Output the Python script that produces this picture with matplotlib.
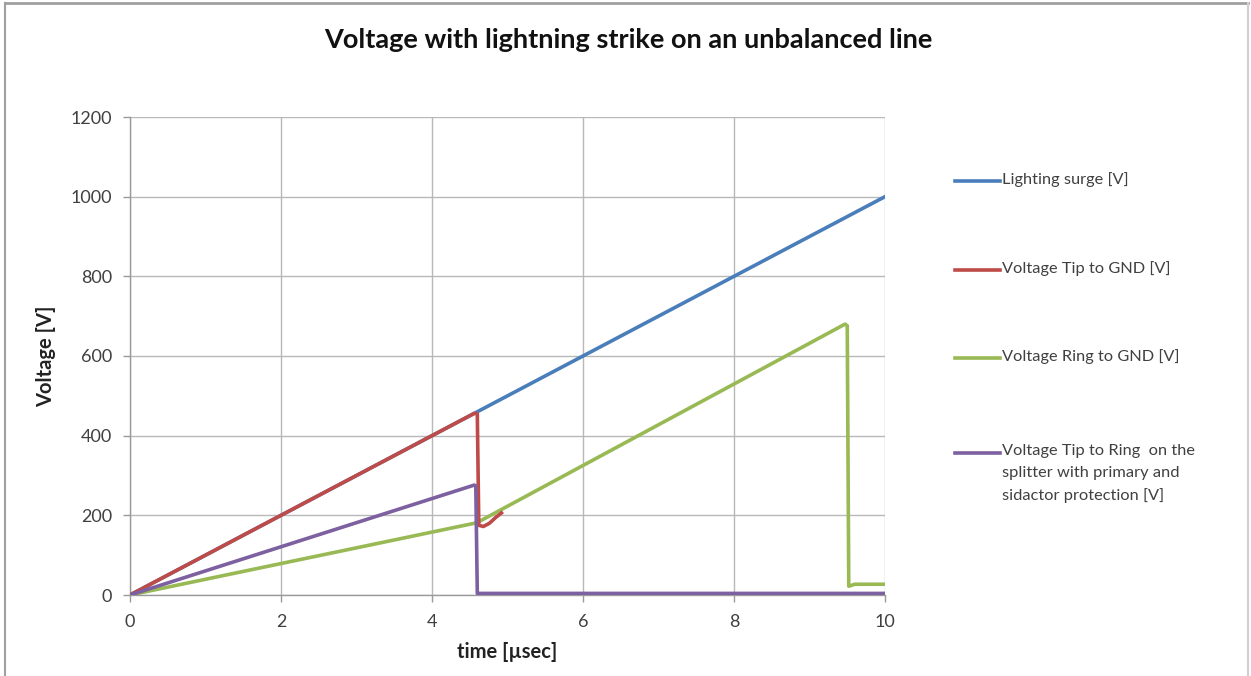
import matplotlib
matplotlib.use("Agg")
import matplotlib.pyplot as plt
from matplotlib.lines import Line2D

# ---- data ----
surge_t = [0, 10]
surge_v = [0, 1000]

tip_t = [0, 4.56, 4.60, 4.62, 4.68, 4.76, 4.84, 4.92]
tip_v = [0, 456, 455, 175, 172, 180, 194, 206]

ring_t = [0, 4.56, 4.62, 9.47, 9.50, 9.52, 9.60, 10]
ring_v = [0, 180, 184, 680, 676, 22, 27, 27]

tr_t = [0, 4.56, 4.58, 4.60, 10]
tr_v = [0, 276, 274, 4, 4]

labels = ["Lighting surge [V]",
          "Voltage Tip to GND [V]",
          "Voltage Ring to GND [V]",
          "Voltage Tip to Ring  on the\nsplitter with primary and\nsidactor protection [V]"]
colors = ["#4a7ebb", "#be4b48", "#98b954", "#7d60a0"]

x_ticks = [0, 2, 4, 6, 8, 10]
y_ticks = [0, 200, 400, 600, 800, 1000, 1200]

title = "Voltage with lightning strike on an unbalanced line"
xlabel = "time [µsec]"
ylabel = "Voltage [V]"

# ---- figure ----
W, H = 1251, 676
fig = plt.figure(figsize=(W / 100, H / 100), dpi=100)
plt.rcParams['font.family'] = ['Lato', 'DejaVu Sans']

ax = fig.add_axes([130 / W, 1 - 595 / H, (885 - 130) / W, (595 - 117) / H])
lw = 2.6
ax.plot(surge_t, surge_v, color=colors[0], lw=lw, zorder=3)
ax.plot(ring_t, ring_v, color=colors[2], lw=lw, zorder=4)
ax.plot(tip_t, tip_v, color=colors[1], lw=lw, zorder=5)
ax.plot(tr_t, tr_v, color=colors[3], lw=lw, zorder=6)

ax.set_xlim(0, 10)
ax.set_ylim(0, 1200)
ax.set_xticks(x_ticks)
ax.set_yticks(y_ticks)
ax.grid(True, color="#b8b8b8", lw=1.0)
ax.set_axisbelow(True)
for s in ["top", "right"]:
    ax.spines[s].set_visible(False)
for s in ["left", "bottom"]:
    ax.spines[s].set_color("#9a9a9a")
    ax.spines[s].set_linewidth(1.0)
ax.tick_params(axis="both", colors="#9a9a9a", labelcolor="#404040",
               labelsize=13, length=5, width=1)
ax.tick_params(axis="y", pad=8)
ax.tick_params(axis="x", pad=9)

ax.set_xlabel(xlabel, fontsize=14.5, fontweight="bold", color="#222222", labelpad=8)
ax.set_ylabel(ylabel, fontsize=14.5, fontweight="bold", color="#222222", labelpad=10)

fig.text(628 / W, 1 - 40 / H, title, ha="center", va="center",
         fontsize=19.5, fontweight="bold", color="#111111")

# ---- legend ----
leg_y = [181, 270, 358, 453]
for lab, c, yp in zip(labels, colors, leg_y):
    fig.add_artist(Line2D([955 / W, 1000 / W], [1 - yp / H, 1 - yp / H],
                          color=c, lw=2.6, transform=fig.transFigure))
    fig.text(1002 / W, 1 - (yp - 9) / H, lab, ha="left", va="top",
             fontsize=11.8, color="#404040", linespacing=1.72)

# ---- figure frame ----
fc = "#a0a0a0"
fig.add_artist(Line2D([5 / W, 5 / W], [0, 1 - 3 / H], color=fc, lw=1.5))
fig.add_artist(Line2D([5 / W, 1248 / W], [1 - 3 / H, 1 - 3 / H], color=fc, lw=2.0))
fig.add_artist(Line2D([1248 / W, 1248 / W], [0, 1 - 3 / H], color="#d0d0d0", lw=1.5))

fig.savefig("out.png", dpi=100)
